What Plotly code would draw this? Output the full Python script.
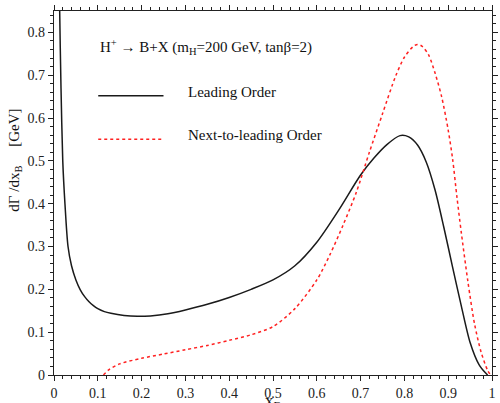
import plotly.graph_objects as go

# Leading Order (black solid)
lo_x = [0.010, 0.013, 0.016, 0.020, 0.025, 0.032, 0.040, 0.050, 0.060, 0.070, 0.080, 0.090,
        0.10, 0.115, 0.13, 0.16, 0.19,
        0.22, 0.26, 0.30, 0.35, 0.40, 0.45, 0.50, 0.55, 0.60, 0.65, 0.70, 0.73, 0.76, 0.79,
        0.81, 0.83, 0.85, 0.87, 0.89, 0.91, 0.93, 0.95, 0.97, 0.985, 0.99]
lo_y = [1.1, 0.85, 0.67, 0.50, 0.40, 0.30, 0.255, 0.222, 0.199, 0.183, 0.171, 0.162,
        0.155, 0.148, 0.144, 0.139, 0.137,
        0.138, 0.143, 0.152, 0.165, 0.181, 0.200, 0.222, 0.255, 0.310, 0.385, 0.467, 0.506, 0.538, 0.559,
        0.556, 0.537, 0.497, 0.432, 0.345, 0.252, 0.161, 0.076, 0.025, 0.005, 0.0]

# Next-to-leading Order (red dotted)
nlo_x = [0.113, 0.125, 0.15, 0.20, 0.25, 0.30, 0.35, 0.40, 0.45, 0.50, 0.55, 0.60, 0.63,
         0.66, 0.69, 0.72, 0.75, 0.78, 0.80, 0.82, 0.83, 0.84, 0.855, 0.87, 0.885, 0.90,
         0.91, 0.92, 0.93, 0.945, 0.96, 0.975, 0.99, 0.997]
nlo_y = [0.0, 0.012, 0.026, 0.039, 0.049, 0.059, 0.069, 0.081, 0.094, 0.113, 0.155, 0.222, 0.281,
         0.350, 0.426, 0.520, 0.610, 0.698, 0.742, 0.767, 0.772, 0.768, 0.748, 0.705, 0.650, 0.572,
         0.505, 0.415, 0.332, 0.218, 0.120, 0.054, 0.011, 0.0]

x_ticks = [0, 0.1, 0.2, 0.3, 0.4, 0.5, 0.6, 0.7, 0.8, 0.9, 1]
x_labels = ["0", "0.1", "0.2", "0.3", "0.4", "0.5", "0.6", "0.7", "0.8", "0.9", "1"]
y_ticks = [0, 0.1, 0.2, 0.3, 0.4, 0.5, 0.6, 0.7, 0.8]
y_labels = ["0", "0.1", "0.2", "0.3", "0.4", "0.5", "0.6", "0.7", "0.8"]

FONT = "Liberation Serif, Times New Roman, serif"

fig = go.Figure()
fig.add_trace(go.Scatter(x=lo_x, y=lo_y, mode="lines", name="Leading Order",
                         line=dict(color="#1a1a1a", width=1.5, shape="spline", smoothing=0.8)))
fig.add_trace(go.Scatter(x=nlo_x, y=nlo_y, mode="lines", name="Next-to-leading Order",
                         line=dict(color="#ff2020", width=1.5, dash="dot", shape="spline", smoothing=0.8)))

axis_common = dict(showline=True, linecolor="#222", linewidth=1.3, mirror="ticks",
                   ticks="outside", ticklen=5, tickwidth=1, tickcolor="#222",
                   showgrid=False, zeroline=False,
                   tickfont=dict(family=FONT, size=14, color="#222"))

fig.update_xaxes(range=[0, 1], tickvals=x_ticks, ticktext=x_labels,
                 minor=dict(dtick=0.02, ticklen=3, tickcolor="#222", ticks="outside"),
                 **axis_common)
fig.update_yaxes(range=[0, 0.85], tickvals=y_ticks, ticktext=y_labels,
                 minor=dict(dtick=0.02, ticklen=3, tickcolor="#222", ticks="outside"),
                 **axis_common)

ann_font = dict(family=FONT, size=15, color="#111")
annotations = [
    dict(text="H<sup>+</sup> → B+X (m<sub>H</sub>=200 GeV, tanβ=2)", x=0.101, y=0.9,
         xref="paper", yref="paper", xanchor="left", yanchor="middle", showarrow=False, font=ann_font),
    dict(text="Leading Order", x=0.302, y=0.778, xref="paper", yref="paper",
         xanchor="left", yanchor="middle", showarrow=False, font=ann_font),
    dict(text="Next-to-leading Order", x=0.302, y=0.659, xref="paper", yref="paper",
         xanchor="left", yanchor="middle", showarrow=False, font=ann_font),
    dict(text="dΓ /dx<sub>B</sub>     [GeV]", x=-0.088, y=0.59, xref="paper", yref="paper",
         xanchor="center", yanchor="middle", textangle=-90, showarrow=False,
         font=dict(family=FONT, size=15, color="#111")),
    dict(text="x<sub>B</sub>", x=0.5, y=-0.038, xref="paper", yref="paper",
         xanchor="center", yanchor="top", showarrow=False,
         font=dict(family=FONT, size=17, color="#111")),
]

shapes = [
    dict(type="line", xref="paper", yref="paper", x0=0.101, x1=0.25, y0=0.767, y1=0.767,
         line=dict(color="#1a1a1a", width=1.5)),
    dict(type="line", xref="paper", yref="paper", x0=0.101, x1=0.25, y0=0.648, y1=0.648,
         line=dict(color="#ff2020", width=1.5, dash="dot")),
]

fig.update_layout(width=500, height=403, margin=dict(l=54, r=2, t=11, b=23),
                  paper_bgcolor="white", plot_bgcolor="white", showlegend=False,
                  annotations=annotations, shapes=shapes)

fig.write_html("out.html")
